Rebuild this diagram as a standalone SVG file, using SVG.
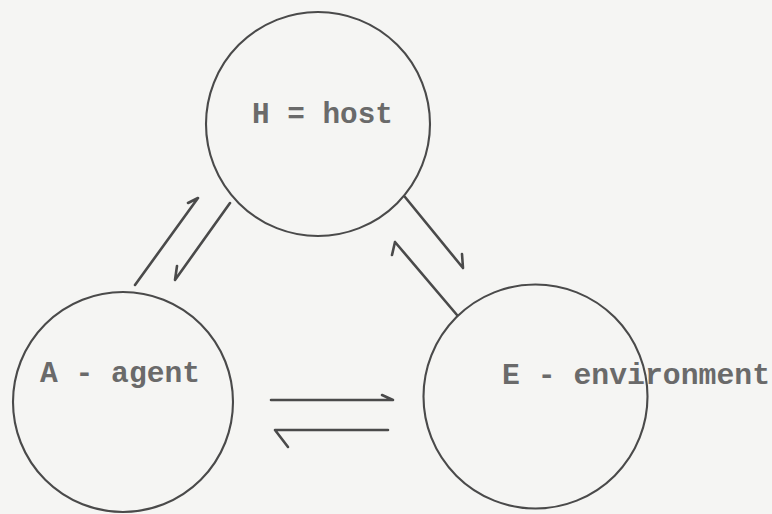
<svg xmlns="http://www.w3.org/2000/svg" width="772" height="514" viewBox="0 0 772 514">
<style>
.bg{fill:#f5f5f3}
.node{fill:none;stroke:#4a4a4a;stroke-width:2.1}
.lbl{font-family:"Liberation Mono","DejaVu Sans Mono",monospace;font-size:30px;font-weight:bold;fill:#6a6a6a}
.arr{fill:none;stroke:#4a4a4a;stroke-width:2.6;stroke-linecap:round;stroke-linejoin:round}
</style>
<rect class="bg" x="0" y="0" width="772" height="514"/>
<g id="node-host">
<circle class="node" cx="318" cy="124" r="112"/>
<text class="lbl" x="252" y="123" textLength="141" lengthAdjust="spacingAndGlyphs">H = host</text>
</g>
<g id="node-agent">
<circle class="node" cx="123" cy="402" r="110"/>
<text class="lbl" x="40" y="382" textLength="160" lengthAdjust="spacingAndGlyphs">A - agent</text>
</g>
<g id="node-environment">
<circle class="node" cx="535.5" cy="396.5" r="112"/>
<text class="lbl" x="502" y="384" textLength="268" lengthAdjust="spacingAndGlyphs">E - environment</text>
</g>
<g id="connectors">
<path class="arr" d="M135 285 L198 198 L188 203"/>
<path class="arr" d="M230 203 L175 280 L177 266"/>
<path class="arr" d="M405 197 L463 268 L462 254"/>
<path class="arr" d="M457 315 L395 242 L392 255"/>
<path class="arr" d="M271 400 L393 400 L382 395"/>
<path class="arr" d="M388 430 L275 430 L288 447"/>
</g>
</svg>
